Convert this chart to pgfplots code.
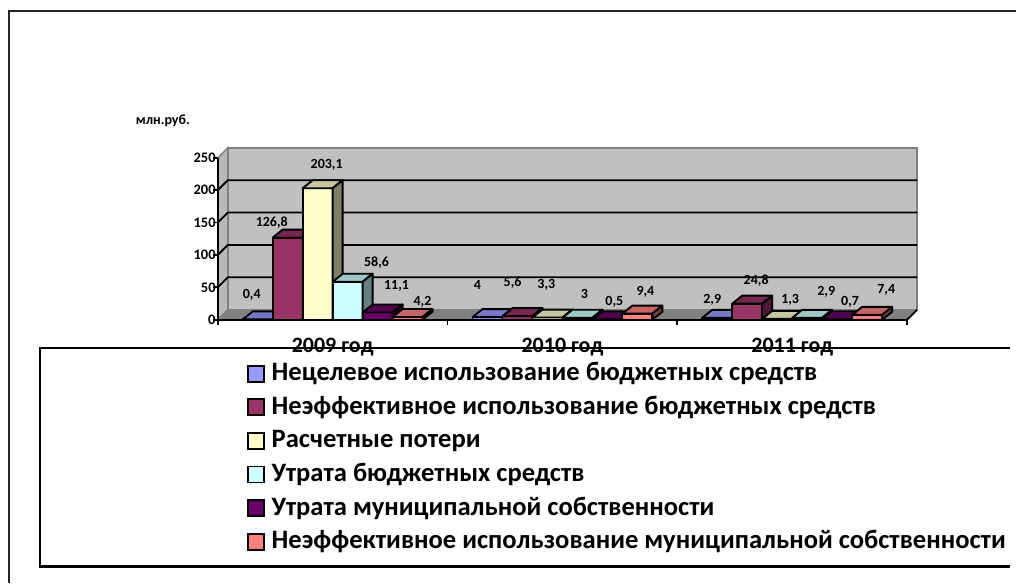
\documentclass[border=0pt]{standalone}
\usepackage{pgfplots}
\pgfplotsset{compat=1.18}
\usepackage{pgfplotstable}
\usepackage{fontspec}
\setmainfont{Carlito}
\definecolor{c1}{RGB}{153,153,255}
\definecolor{c2}{RGB}{153,51,102}
\definecolor{c3}{RGB}{255,255,204}
\definecolor{c4}{RGB}{204,255,255}
\definecolor{c5}{RGB}{102,0,102}
\definecolor{c6}{RGB}{255,128,128}
\definecolor{wallgray}{RGB}{192,192,192}
\definecolor{sidegray}{RGB}{185,185,185}
\definecolor{floorgray}{RGB}{128,128,128}
\pgfdeclareplotmark{nothing}{}

% series: x = category index (0 = 2009, 1 = 2010, 2 = 2011)
\pgfplotstableread{
x y
0 0.4
1 4
2 2.9
}\sA
\pgfplotstableread{
x y
0 126.8
1 5.6
2 24.8
}\sB
\pgfplotstableread{
x y
0 203.1
1 3.3
2 1.3
}\sC
\pgfplotstableread{
x y
0 58.6
1 3
2 2.9
}\sD
\pgfplotstableread{
x y
0 11.1
1 0.5
2 0.7
}\sE
\pgfplotstableread{
x y
0 4.2
1 9.4
2 7.4
}\sF
% data label positions
\pgfplotstableread{
x y label
-0.352 38.6 {0,4}
-0.265 149.7 {126,8}
-0.026 239.2 {203,1}
0.191 88 {58,6}
0.278 52.5 {11,1}
0.391 27.8 {4,2}
0.630 54 {4}
0.783 57.1 {5,6}
0.930 54 {3,3}
1.096 40.1 {3}
1.226 27.8 {0,5}
1.361 43.2 {9,4}
1.652 30.9 {2,9}
1.843 60.2 {24,8}
1.991 30.9 {1,3}
2.148 43.2 {2,9}
2.252 27.8 {0,7}
2.409 46.3 {7,4}
}\labels

\pgfplotsset{
  bar3d/.style n args={2}{
    only marks, scatter, mark=nothing, point meta=y,
    scatter/@pre marker code/.code={
      \pgfmathfloattofixed{\pgfplotspointmeta}%
      \pgfmathsetmacro\hh{\pgfmathresult*0.648}%
      \pgfmathsetmacro\xl{#2-15}%
      \pgfmathsetmacro\xr{#2+15}%
      \pgfmathsetmacro\xbl{#2-5}%
      \pgfmathsetmacro\xbr{#2+25}%
      \filldraw[fill=#1, line width=1.9pt, line join=round] (\xl pt,-\hh pt) rectangle (\xr pt,0pt);
      \filldraw[fill=#1!78!black, line width=1.9pt, line join=round] (\xl pt,0pt) -- (\xr pt,0pt) -- (\xbr pt,8pt) -- (\xbl pt,8pt) -- cycle;
      \filldraw[fill=#1!50!black, line width=1.9pt, line join=round] (\xr pt,0pt) -- (\xbr pt,8pt) -- (\xbr pt,8pt-\hh pt) -- (\xr pt,-\hh pt) -- cycle;
    },
    scatter/@post marker code/.code={},
    legend image code/.code={\draw[fill=#1, line width=1.8pt] (0pt,-7pt) rectangle (16pt,9pt);},
  },
}

\begin{document}
\begin{tikzpicture}
\fill[white] (0pt,0pt) rectangle (1017pt,584pt);
% outer frame
\draw[black!85, line width=2pt] (9pt,0pt) -- (9pt,573pt);
\draw[black!85, line width=2pt] (8pt,573pt) -- (1017pt,573pt);
% 3D walls
\filldraw[fill=floorgray, draw=floorgray, line width=1pt] (218pt,264pt) -- (228pt,274pt) -- (918pt,274pt) -- (908pt,264pt) -- cycle;
\filldraw[fill=wallgray, draw=floorgray, line width=1.5pt] (228pt,274pt) rectangle (918pt,436pt);
\filldraw[fill=sidegray, draw=floorgray, line width=1.5pt] (218pt,264pt) -- (218pt,426pt) -- (228pt,436pt) -- (228pt,274pt) -- cycle;
\draw[black, line width=1.8pt] (908pt,264pt) -- (918pt,274pt);

\begin{axis}[
  at={(218pt,264pt)}, anchor=south west,
  scale only axis, width=690pt, height=162pt,
  xmin=-0.5, xmax=2.5, ymin=0, ymax=250,
  clip=false,
  axis x line*=bottom, axis y line*=left,
  axis line style={-, line width=1.8pt, black},
  tick align=outside, major tick length=5pt,
  tick style={black, line width=1.8pt},
  ytick={0,50,...,250},
  xtick={-0.5,0.5,1.5,2.5}, xticklabels={},
  extra x ticks={0,1,2}, extra x tick labels={2009 год, 2010 год, 2011 год},
  extra x tick style={major tick length=0pt, tick label style={font=\bfseries\fontsize{22}{26}\selectfont, anchor=north, inner sep=0pt, yshift=-18pt}},
  /pgf/number format/assume math mode=true,
  yticklabel style={font=\bfseries\fontsize{14.5}{16}\selectfont, inner sep=1pt, xshift=4pt},
  legend style={at={(axis description cs:0.042,-0.259)}, anchor=north west, draw=none, fill=none,
    font=\bfseries\fontsize{26.6}{30}\selectfont, inner sep=0pt, row sep=7.6pt,
    nodes={inner sep=0pt, text height=19pt, text depth=7pt},
    /tikz/every odd column/.append style={column sep=7pt}},
  legend cell align=left,
]
% gridlines on side wall and back wall
\pgfplotsinvokeforeach{50,100,150,200}{
  \draw[black, line width=1.8pt, line join=round] (axis cs:-0.5,#1) -- ([xshift=10pt,yshift=10pt]axis cs:-0.5,#1) -- ([xshift=10pt,yshift=10pt]axis cs:2.5,#1);
}
\addplot[bar3d={c1}{-75}] table {\sA};
\addlegendentry{Нецелевое использование бюджетных средств}
\addplot[bar3d={c2}{-45}] table {\sB};
\addlegendentry{Неэффективное использование бюджетных средств}
\addplot[bar3d={c3}{-15}] table {\sC};
\addlegendentry{Расчетные потери}
\addplot[bar3d={c4}{15}] table {\sD};
\addlegendentry{Утрата бюджетных средств}
\addplot[bar3d={c5}{45}] table {\sE};
\addlegendentry{Утрата муниципальной собственности}
\addplot[bar3d={c6}{75}] table {\sF};
\addlegendentry{Неэффективное использование муниципальной собственности}
\addplot[only marks, mark=nothing, forget plot, nodes near coords, point meta=explicit symbolic,
  every node near coord/.style={anchor=center, font=\bfseries\fontsize{14}{16}\selectfont, inner sep=0pt, black}]
  table[meta=label] {\labels};
\end{axis}
% legend frame
\draw[black, line width=2.2pt] (39pt,236pt) -- (1011pt,236pt);
\draw[black, line width=2.2pt] (40pt,237pt) -- (40pt,16pt);
\draw[black, line width=2.2pt] (39pt,17pt) -- (1011pt,17pt);
\node[font=\bfseries\fontsize{14}{16}\selectfont, inner sep=0pt] at (163pt,463pt) {млн.руб.};
\end{tikzpicture}
\end{document}
